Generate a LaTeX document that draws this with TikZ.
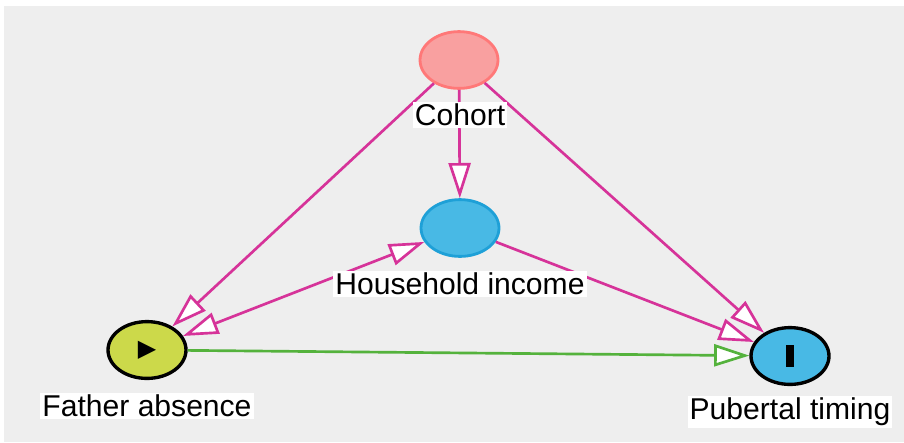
\documentclass[tikz,border=0pt]{standalone}
\usepackage{fontspec}
\setmainfont{Liberation Sans}
\newfontfamily\symfont{DejaVu Sans}
\usetikzlibrary{arrows.meta,shapes.geometric}

\definecolor{bgGray}{RGB}{238,238,238}
\definecolor{cohortFill}{RGB}{249,160,160}
\definecolor{cohortLine}{RGB}{255,120,120}
\definecolor{incomeFill}{RGB}{72,185,229}
\definecolor{incomeLine}{RGB}{30,160,215}
\definecolor{exposureFill}{RGB}{204,217,74}
\definecolor{biasPink}{RGB}{214,51,153}
\definecolor{causalGreen}{RGB}{84,178,60}

\tikzset{
  var/.style={ellipse, draw, line width=2pt, minimum width=1.95cm, minimum height=1.42cm, inner sep=0pt},
  varlabel/.style={fill=white, inner sep=1.5pt, font=\fontsize{21.4}{24}\selectfont},
  biasedge/.style={draw=biasPink, line width=1.9pt},
  causaledge/.style={draw=causalGreen, line width=1.9pt},
  tohead/.style={-{Triangle[length=0.88cm, width=0.55cm, fill=white]}},
  bothheads/.style={{Triangle[length=0.88cm, width=0.55cm, fill=white]}-{Triangle[length=0.88cm, width=0.55cm, fill=white]}}
}

\begin{document}
\begin{tikzpicture}
    \useasboundingbox (0, 0) rectangle (22.6, -11.05);
    \fill[bgGray] (0.1, -0.15) rectangle (22.6, -11.05);

    % 変数のノード
    \node[var, fill=cohortFill, draw=cohortLine] (C) at (11.475, -1.5) {};
    \node[var, fill=incomeFill, draw=incomeLine] (H) at (11.5, -5.7) {};
    \node[var, fill=exposureFill, draw=black, line width=2.4pt] (F) at (3.675, -8.75) {\fontsize{17}{17}\symfont ▶};
    \node[var, fill=incomeFill, draw=black, line width=2.4pt] (P) at (19.75, -8.9) {\rule{0.2cm}{0.55cm}};

    \draw[biasedge, tohead] (C) -- (F);
    \draw[biasedge, tohead] (C) -- (H);
    \draw[biasedge, tohead] (C) -- (P);
    \draw[biasedge, bothheads] (F) -- (H);
    \draw[biasedge, tohead] (H) -- (P);
    \draw[causaledge, tohead] (F) -- (P);

    % ラベルは矢印の上に重ねる
    \node[varlabel] (C_label) at (11.5, -2.875) {Cohort};
    \node[varlabel] (H_label) at (11.5, -7.1) {Household income};
    \node[varlabel] (F_label) at (3.675, -10.15) {Father absence};
    \node[varlabel] (P_label) at (19.75, -10.3) {Pubertal timing};
\end{tikzpicture}
\end{document}
